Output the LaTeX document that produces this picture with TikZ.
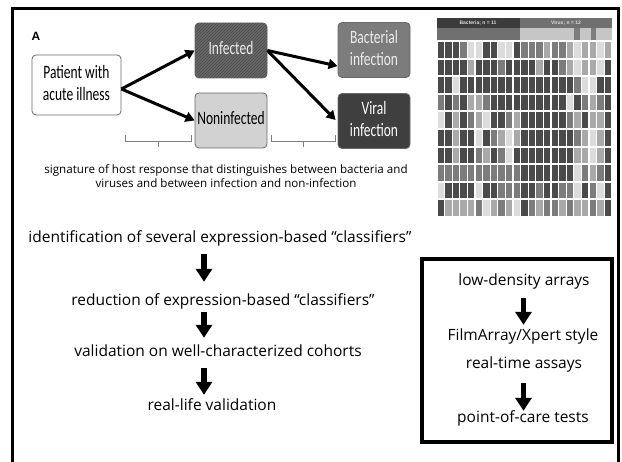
\documentclass[tikz,border=0pt]{standalone}
\usepackage{fontspec}
\usepackage{graphicx}
\setmainfont{Open Sans}
\newfontfamily\calfont{Carlito}
\newfontfamily\arialfont{Liberation Sans}
\usetikzlibrary{arrows.meta,patterns,calc}
\definecolor{hD}{HTML}{4A4A4A}
\definecolor{hM}{HTML}{7C7C7C}
\definecolor{hL}{HTML}{A9A9A9}
\definecolor{hW}{HTML}{DCDCDC}
\definecolor{boxline}{HTML}{6A6A6A}
\newcommand{\boxlbl}[1]{\scalebox{1}[1.4]{\calfont\fontsize{13.5}{15.5}\selectfont\begin{tabular}{@{}c@{}}#1\end{tabular}}}
\begin{document}
\begin{tikzpicture}[x=1pt,y=-1pt,
  flowbox/.style={draw=boxline,line width=0.8pt,rounded corners=4pt,minimum width=72pt,minimum height=55pt,inner sep=0pt},
  toparr/.style={line width=3pt,-{Triangle[width=10pt,length=9pt]}},
  bigarr/.style={line width=5.5pt,-{Triangle[width=16pt,length=13pt]}},
  brk/.style={draw=gray,line width=1pt},
  steptxt/.style={inner sep=0pt,text height=9pt,text depth=3pt,font=\fontsize{15.5}{18}\selectfont},
  captxt/.style={inner sep=0pt,align=center,font=\fontsize{11.6}{14}\selectfont},
  hdrtxt/.style={inner sep=0pt,text=gray!25,font=\arialfont\bfseries\fontsize{5}{6}\selectfont}
]
\useasboundingbox (0,0) rectangle (622,462);
\clip (0,0) rectangle (622,462);
\fill[white] (0,0) rectangle (622,462);

% outer frame
\draw[line width=3pt] (12.5,475) -- (12.5,8.5) -- (618.5,8.5) -- (618.5,475);

% panel A
\node[inner sep=0pt,font=\arialfont\bfseries\fontsize{12}{13}\selectfont] (lblA) at (36,36) {A};

\node[flowbox,fill=white,minimum width=89pt,minimum height=60pt] (pat) at (76.5,85) {\boxlbl{Patient with\\acute illness}};
\node[flowbox,fill=hM!85!black,postaction={pattern=north east lines,pattern color=hD}] (inf) at (231,50.5) {\boxlbl{\textcolor{gray!15}{Infected}}};
\node[flowbox,fill=gray!35] (non) at (231,120.5) {\boxlbl{Noninfected}};
\node[flowbox,fill=hM] (bac) at (374,50) {\boxlbl{\textcolor{gray!15}{Bacterial}\\\textcolor{gray!15}{infection}}};
\node[flowbox,fill=hD!85!black] (vir) at (374,121) {\boxlbl{\textcolor{white}{Viral}\\\textcolor{white}{infection}}};

\draw[toparr] ($(pat.east)+(0,4)$) -- (inf.west);
\draw[toparr] ($(pat.east)+(0,4)$) -- (non.west);
\draw[toparr] (inf.east) -- ($(bac.west)+(0,16)$);
\draw[toparr] (inf.east) -- ($(vir.west)+(-2,-1)$);

\draw[brk] (125,135) -- (125,142) -- (191,142) -- (191,135);
\draw[brk] (158,142) -- (158,147);
\draw[brk] (271,135) -- (271,142) -- (335,142) -- (335,135);
\draw[brk] (303,142) -- (303,147);

\node[captxt] (cap) at (226,176) {signature of host response that distinguishes between bacteria and\\viruses and between infection and non-infection};

% heatmap
\fill[hD!80!black] (437,18) rectangle (520,28.5);
\fill[hM!90!black] (520,18) rectangle (612,28.5);
\node[hdrtxt] (hb) at (478,23) {Bacteria; n = 11};
\node[hdrtxt] (hv) at (566,23) {Virus; n = 12};
\fill[hM!90!black] (437,28.5) rectangle (520,40);
\fill[gray!45] (520,28.5) rectangle (612,40);
\fill[hM] (574,28.5) rectangle (580,40);
\fill[hM] (591,28.5) rectangle (596,40);
\foreach \rw [count=\r from 0] in {
 {D,D,D,M,W,W,D,D,W,W,D,M,M,M,L,M,M,L,W,L,L,W,L},
 {D,D,D,D,L,D,D,D,M,D,D,D,D,L,D,D,M,L,W,L,L,W,D},
 {D,D,W,D,D,D,D,D,D,D,D,D,D,D,D,D,D,D,M,W,W,D,D},
 {M,D,M,D,L,L,M,D,D,D,D,D,D,D,D,D,D,W,D,M,L,M,D},
 {W,D,L,D,M,L,W,D,D,M,L,D,D,D,D,D,D,M,L,D,L,L,D},
 {D,D,L,D,D,W,D,M,L,W,L,D,D,D,D,D,D,D,M,L,W,L,D},
 {D,D,L,D,D,M,L,D,M,W,D,D,D,D,D,D,D,D,L,L,W,L,D},
 {M,M,M,M,M,M,M,M,M,M,M,D,D,D,D,D,D,D,W,M,L,M,D},
 {W,D,D,D,D,W,D,D,M,M,M,D,D,M,D,D,M,M,W,D,M,W,D},
 {D,L,L,L,L,M,W,L,M,L,W,D,M,L,M,M,L,M,L,L,M,L,D}}{
  \foreach \c [count=\k from 0] in \rw {
    \fill[h\c] ({437.6+\k*7.6},{42+\r*17.6}) rectangle ++(6.4,15.6);
  }
}

% lower left flow
\coordinate (ax) at (204,300);
\node[steptxt] (s1) at (220,240) {identification of several expression-based “classifiers”};
\node[steptxt] (s2) at (223,303) {reduction of expression-based “classifiers”};
\node[steptxt] (s3) at (218,354) {validation on well-characterized cohorts};
\node[steptxt] (s4) at (212,408) {real-life validation};
\draw[bigarr,shorten <=8pt,shorten >=15pt] (s1.south -| ax) -- (s2.north -| ax);
\draw[bigarr,shorten <=3pt,shorten >=10pt] (s2.south -| ax) -- (s3.north -| ax);
\draw[bigarr,shorten <=8pt,shorten >=7pt] (s3.south -| ax) -- (s4.north -| ax);

% right box
\node[draw,line width=3.5pt,minimum width=190pt,minimum height=183pt,inner sep=0pt] (rbox) at (517,350.5) {};
\coordinate (bx) at (523.5,350);
\node[steptxt] (r1) at (524,283) {low-density arrays};
\node[steptxt] (r2) at (523,338) {FilmArray/Xpert style};
\node[steptxt] (r3) at (524,366) {real-time assays};
\node[steptxt] (r4) at (523,420) {point-of-care tests};
\draw[bigarr,shorten <=9pt,shorten >=7pt] (r1.south -| bx) -- (r2.north -| bx);
\draw[bigarr,shorten <=11pt,shorten >=3pt] (r3.south -| bx) -- (r4.north -| bx);
\end{tikzpicture}
\end{document}
